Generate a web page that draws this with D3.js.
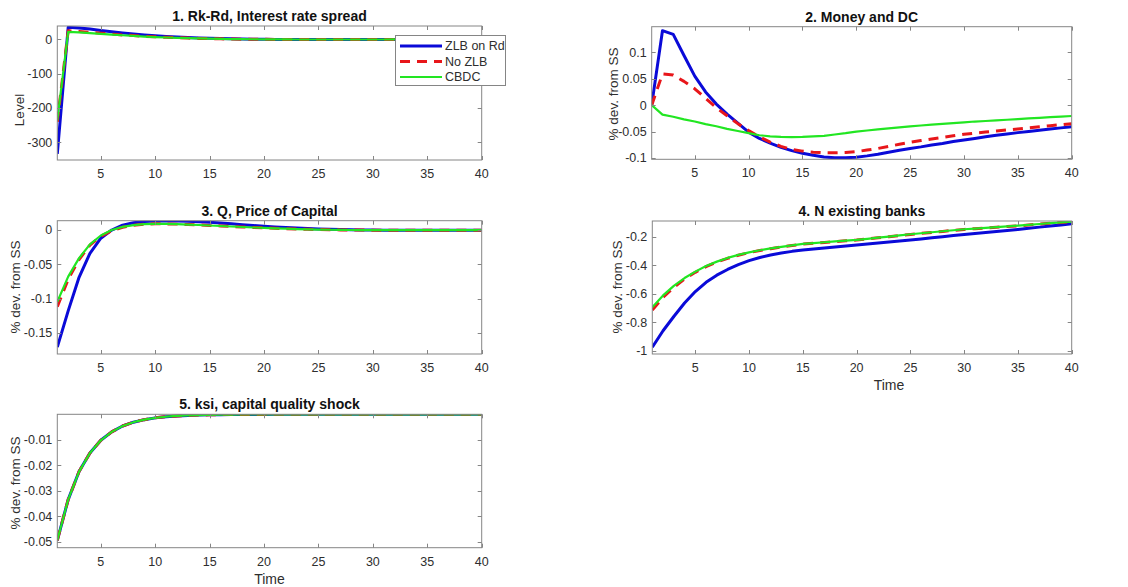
<!DOCTYPE html>
<html>
<head>
<meta charset="utf-8">
<script src="https://cdn.jsdelivr.net/npm/d3@7"></script>
<style>
  html, body { margin: 0; padding: 0; background: #fff; }
  svg { display: block; font-family: "Liberation Sans", Arial, Helvetica, sans-serif; }
</style>
</head>
<body>
<svg id="chart" width="1128" height="587"></svg>
<script>
// Impulse responses, periods 1..40
const periods = d3.range(1, 41);
const seriesNames = ["ZLB on Rd", "No ZLB", "CBDC"];
const xTicks = [5, 10, 15, 20, 25, 30, 35, 40];

// 1. Rk-Rd, interest rate spread (level)
const spreadZLB = [-333, 35, 33, 30, 26, 22.5, 19, 16, 13, 10.5, 8.5, 6.8, 5.3, 4.1, 3.1, 2.3, 1.6, 1.1, 0.6, 0.3, 0.0, -0.2, -0.3, -0.4, -0.5, -0.5, -0.5, -0.5, -0.5, -0.5, -0.4, -0.4, -0.4, -0.3, -0.3, -0.3, -0.2, -0.2, -0.2, -0.2];
const spreadNoZLB = [-240, 25, 23, 20.5, 18, 15.5, 13, 11, 9, 7.5, 6, 4.8, 3.8, 2.9, 2.2, 1.6, 1.1, 0.7, 0.4, 0.1, -0.1, -0.2, -0.3, -0.4, -0.4, -0.4, -0.4, -0.4, -0.4, -0.3, -0.3, -0.3, -0.3, -0.2, -0.2, -0.2, -0.2, -0.2, -0.1, -0.1];
const spreadCBDC = [-236, 22, 20.5, 18.5, 16, 14, 12, 10, 8.3, 6.8, 5.5, 4.4, 3.5, 2.7, 2.0, 1.5, 1.0, 0.7, 0.4, 0.1, -0.1, -0.2, -0.3, -0.3, -0.3, -0.3, -0.3, -0.3, -0.3, -0.3, -0.3, -0.2, -0.2, -0.2, -0.2, -0.2, -0.1, -0.1, -0.1, -0.1];
const spreadTicks = [-300, -200, -100, 0];

// 2. Money and DC (% dev. from SS)
const moneyZLB = [0, 0.141, 0.134, 0.094, 0.055, 0.025, 0.002, -0.017, -0.034, -0.051, -0.063, -0.072, -0.080, -0.086, -0.091, -0.095, -0.098, -0.0995, -0.0995, -0.0985, -0.096, -0.093, -0.089, -0.0855, -0.082, -0.079, -0.0755, -0.0725, -0.069, -0.066, -0.063, -0.060, -0.057, -0.0545, -0.052, -0.0497, -0.0474, -0.0452, -0.043, -0.041];
const moneyNoZLB = [0, 0.059, 0.057, 0.045, 0.031, 0.013, -0.005, -0.020, -0.035, -0.048, -0.060, -0.070, -0.078, -0.084, -0.087, -0.089, -0.090, -0.090, -0.0895, -0.088, -0.085, -0.082, -0.078, -0.074, -0.070, -0.067, -0.064, -0.061, -0.058, -0.055, -0.053, -0.051, -0.049, -0.047, -0.045, -0.043, -0.041, -0.039, -0.037, -0.035];
const moneyCBDC = [0, -0.018, -0.022, -0.027, -0.031, -0.036, -0.040, -0.045, -0.049, -0.053, -0.057, -0.059, -0.060, -0.0605, -0.060, -0.059, -0.058, -0.0555, -0.053, -0.050, -0.048, -0.046, -0.044, -0.042, -0.040, -0.0385, -0.037, -0.0355, -0.034, -0.0325, -0.031, -0.030, -0.0288, -0.0276, -0.0264, -0.0252, -0.024, -0.0228, -0.0216, -0.0205];
const moneyTicks = [-0.1, -0.05, 0, 0.05, 0.1];

// 3. Q, price of capital
const priceZLB = [-0.171, -0.118, -0.069, -0.034, -0.012, 0.0, 0.007, 0.0105, 0.0125, 0.0133, 0.0135, 0.0133, 0.0128, 0.0121, 0.0113, 0.0102, 0.009, 0.0078, 0.0066, 0.0055, 0.0045, 0.0036, 0.0028, 0.0021, 0.0015, 0.001, 0.0006, 0.0003, 0.0001, -0.0001, -0.0002, -0.0003, -0.0003, -0.0004, -0.0004, -0.0004, -0.0004, -0.0004, -0.0004, -0.0004];
const priceNoZLB = [-0.112, -0.072, -0.043, -0.022, -0.009, -0.001, 0.004, 0.007, 0.0085, 0.009, 0.009, 0.0086, 0.008, 0.0074, 0.0067, 0.006, 0.0052, 0.0045, 0.0038, 0.0031, 0.0025, 0.002, 0.0015, 0.0011, 0.0007, 0.0004, 0.0002, 0.0, -0.0001, -0.0002, -0.0003, -0.0003, -0.0003, -0.0003, -0.0003, -0.0003, -0.0003, -0.0003, -0.0003, -0.0003];
const priceCBDC = [-0.105, -0.068, -0.041, -0.021, -0.008, 0.0, 0.0045, 0.0072, 0.0086, 0.0091, 0.009, 0.0086, 0.008, 0.0073, 0.0066, 0.0059, 0.0051, 0.0044, 0.0037, 0.003, 0.0024, 0.0019, 0.0014, 0.001, 0.0007, 0.0004, 0.0002, 0.0, -0.0001, -0.0002, -0.0002, -0.0003, -0.0003, -0.0003, -0.0003, -0.0003, -0.0003, -0.0003, -0.0003, -0.0003];
const priceTicks = [-0.15, -0.1, -0.05, 0];

// 4. N, existing banks
const banksZLB = [-0.975, -0.86, -0.76, -0.665, -0.585, -0.52, -0.47, -0.43, -0.396, -0.368, -0.346, -0.328, -0.314, -0.303, -0.294, -0.286, -0.279, -0.272, -0.265, -0.259, -0.252, -0.245, -0.238, -0.231, -0.224, -0.216, -0.208, -0.2, -0.192, -0.184, -0.177, -0.17, -0.163, -0.156, -0.149, -0.141, -0.133, -0.125, -0.118, -0.11];
const banksNoZLB = [-0.715, -0.625, -0.555, -0.497, -0.45, -0.41, -0.378, -0.352, -0.33, -0.312, -0.297, -0.284, -0.272, -0.262, -0.252, -0.246, -0.24, -0.234, -0.229, -0.224, -0.216, -0.208, -0.2, -0.192, -0.184, -0.177, -0.17, -0.163, -0.156, -0.149, -0.144, -0.139, -0.134, -0.129, -0.124, -0.118, -0.112, -0.106, -0.1, -0.095];
const banksCBDC = [-0.695, -0.612, -0.545, -0.49, -0.445, -0.406, -0.375, -0.349, -0.328, -0.31, -0.295, -0.282, -0.271, -0.261, -0.251, -0.245, -0.239, -0.233, -0.228, -0.223, -0.215, -0.207, -0.199, -0.191, -0.183, -0.176, -0.169, -0.162, -0.155, -0.148, -0.143, -0.138, -0.133, -0.128, -0.123, -0.117, -0.111, -0.105, -0.099, -0.094];
const banksTicks = [-1, -0.8, -0.6, -0.4, -0.2];

// 5. ksi, capital quality shock
const ksiZLB = [-0.0495, -0.0335, -0.0225, -0.0152, -0.0102, -0.0069, -0.0046, -0.0031, -0.0021, -0.0014, -0.00095, -0.00064, -0.00043, -0.00029, -0.0002, -0.00013, -0.00009, -0.00006, -0.00004, -0.00003, -0.00002, -0.00001, -0.00001, -0.00001, 0, 0, 0, 0, 0, 0, 0, 0, 0, 0, 0, 0, 0, 0, 0, 0];
const ksiNoZLB = [-0.0495, -0.0335, -0.0225, -0.0152, -0.0102, -0.0069, -0.0046, -0.0031, -0.0021, -0.0014, -0.00095, -0.00064, -0.00043, -0.00029, -0.0002, -0.00013, -0.00009, -0.00006, -0.00004, -0.00003, -0.00002, -0.00001, -0.00001, -0.00001, 0, 0, 0, 0, 0, 0, 0, 0, 0, 0, 0, 0, 0, 0, 0, 0];
const ksiCBDC = [-0.0495, -0.0335, -0.0225, -0.0152, -0.0102, -0.0069, -0.0046, -0.0031, -0.0021, -0.0014, -0.00095, -0.00064, -0.00043, -0.00029, -0.0002, -0.00013, -0.00009, -0.00006, -0.00004, -0.00003, -0.00002, -0.00001, -0.00001, -0.00001, 0, 0, 0, 0, 0, 0, 0, 0, 0, 0, 0, 0, 0, 0, 0, 0];
const ksiTicks = [-0.05, -0.04, -0.03, -0.02, -0.01];

// Line styles for the three regimes
const styles = [
  { color: "#0a0ad8", width: 3, dash: null },
  { color: "#e8161a", width: 3, dash: "10,7" },
  { color: "#22e622", width: 2.2, dash: null }
];

// Subplot layout
const panels = [
  { title: "1. Rk-Rd, Interest rate spread", ylabel: "Level", ylabelPos: [19, 110],
    box: [57.3, 481.7, 26, 160], domain: [-351, 39], ticks: spreadTicks,
    data: [spreadZLB, spreadNoZLB, spreadCBDC], legend: true },
  { title: "2. Money and DC", ylabel: "% dev. from SS", ylabelPos: [613, 94],
    box: [651.7, 1071.7, 26.7, 159.3], domain: [-0.1025, 0.1485], ticks: moneyTicks,
    data: [moneyZLB, moneyNoZLB, moneyCBDC] },
  { title: "3. Q, Price of Capital", ylabel: "% dev. from SS", ylabelPos: [15, 287],
    box: [57.3, 481.7, 220.7, 354], domain: [-0.181, 0.0136], ticks: priceTicks,
    data: [priceZLB, priceNoZLB, priceCBDC] },
  { title: "4. N existing banks", ylabel: "% dev. from SS", ylabelPos: [617, 287],
    box: [652.3, 1071.7, 221, 354], domain: [-1.023, -0.09], ticks: banksTicks,
    data: [banksZLB, banksNoZLB, banksCBDC], xlabelPos: [889, 390] },
  { title: "5. ksi, capital quality shock", ylabel: "% dev. from SS", ylabelPos: [15, 483],
    box: [57.3, 481.7, 414.3, 547.7], domain: [-0.0524, 0], ticks: ksiTicks,
    data: [ksiZLB, ksiNoZLB, ksiCBDC], xlabelPos: [269.5, 584] }
];

const svg = d3.select("#chart");
const textColor = "#2e2e2e";
const axisColor = "#858585";
const fmt = v => String(+v.toFixed(4));

panels.forEach((p, i) => {
  const [x0, x1, y0, y1] = p.box;
  const x = d3.scaleLinear().domain([1, 40]).range([x0, x1]);
  const y = d3.scaleLinear().domain(p.domain).range([y1, y0]);
  const g = svg.append("g");

  const clipId = "clip" + i;
  svg.append("clipPath").attr("id", clipId)
    .append("rect").attr("x", x0).attr("y", y0).attr("width", x1 - x0).attr("height", y1 - y0);

  // series lines
  const line = d3.line().x((d, k) => x(periods[k])).y(d => y(d));
  const lines = g.append("g").attr("clip-path", `url(#${clipId})`);
  p.data.forEach((vals, s) => {
    const st = styles[s];
    lines.append("path").datum(vals)
      .attr("d", line)
      .attr("fill", "none")
      .attr("stroke", st.color)
      .attr("stroke-width", st.width)
      .attr("stroke-linejoin", "round")
      .attr("stroke-dasharray", st.dash);
  });

  // axes: ticks point inward, mirrored on top and right
  const tickLen = 4;
  const axG = g.append("g").attr("fill", "none").attr("stroke", axisColor).attr("stroke-width", 1);
  axG.append("rect").attr("x", x0).attr("y", y0).attr("width", x1 - x0).attr("height", y1 - y0);
  xTicks.forEach(t => {
    const xx = Math.round(x(t)) + 0.5;
    axG.append("line").attr("x1", xx).attr("x2", xx).attr("y1", y1).attr("y2", y1 - tickLen);
    axG.append("line").attr("x1", xx).attr("x2", xx).attr("y1", y0).attr("y2", y0 + tickLen);
  });
  p.ticks.forEach(t => {
    const yy = Math.round(y(t)) + 0.5;
    axG.append("line").attr("x1", x0).attr("x2", x0 + tickLen).attr("y1", yy).attr("y2", yy);
    axG.append("line").attr("x1", x1).attr("x2", x1 - tickLen).attr("y1", yy).attr("y2", yy);
  });

  // tick labels
  const labG = g.append("g").attr("fill", textColor).attr("font-size", "12.5px");
  xTicks.forEach(t => {
    labG.append("text").attr("x", x(t)).attr("y", y1 + 18)
      .attr("text-anchor", "middle").text(t);
  });
  p.ticks.forEach(t => {
    labG.append("text").attr("x", x0 - 5).attr("y", y(t)).attr("dy", "0.35em")
      .attr("text-anchor", "end").text(fmt(t));
  });

  // title
  g.append("text").attr("x", (x0 + x1) / 2).attr("y", y0 - 5)
    .attr("text-anchor", "middle").attr("font-weight", "bold").attr("font-size", "14px")
    .attr("fill", "#111").text(p.title);

  // y label
  g.append("text")
    .attr("transform", `translate(${p.ylabelPos[0]},${p.ylabelPos[1]}) rotate(-90)`)
    .attr("text-anchor", "middle").attr("dy", "0.35em")
    .attr("font-size", "13.5px").attr("fill", textColor).text(p.ylabel);

  // x label
  if (p.xlabelPos) {
    g.append("text").attr("x", p.xlabelPos[0]).attr("y", p.xlabelPos[1])
      .attr("text-anchor", "middle").attr("font-size", "14px")
      .attr("fill", textColor).text("Time");
  }

  // legend
  if (p.legend) {
    const lg = g.append("g");
    const lx = 395, ly = 35, lw = 110, lh = 50;
    lg.append("rect").attr("x", lx + 0.5).attr("y", ly + 0.5).attr("width", lw).attr("height", lh)
      .attr("fill", "#fff").attr("stroke", axisColor);
    seriesNames.forEach((name, s) => {
      const yy = ly + 11 + s * 15.5;
      const st = styles[s];
      lg.append("line").attr("x1", lx + 5).attr("x2", lx + 47).attr("y1", yy).attr("y2", yy)
        .attr("stroke", st.color).attr("stroke-width", st.width)
        .attr("stroke-dasharray", st.dash);
      lg.append("text").attr("x", lx + 50).attr("y", yy).attr("dy", "0.35em")
        .attr("font-size", "12.5px").attr("fill", textColor).text(name);
    });
  }
});
</script>
</body>
</html>
